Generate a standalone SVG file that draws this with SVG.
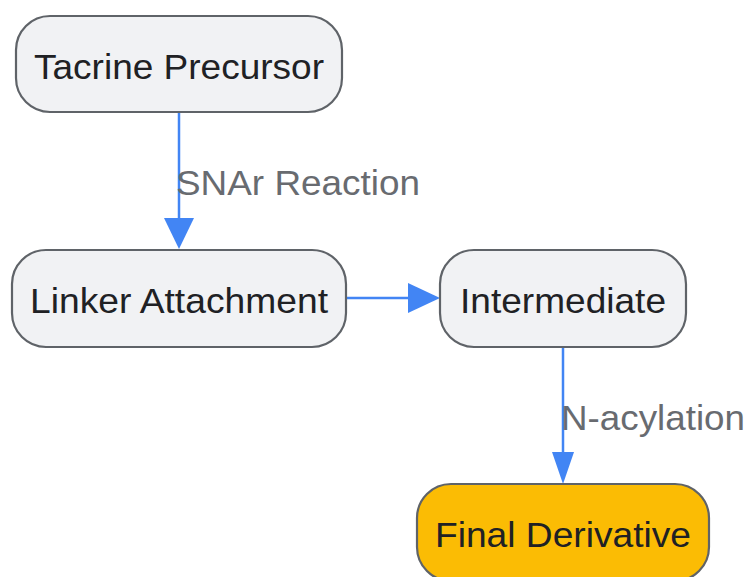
<svg xmlns="http://www.w3.org/2000/svg" width="748" height="577" viewBox="0 0 748 577">
<defs>
<style>
.node rect{fill:#f1f2f4;stroke:#5f6368;stroke-width:2.2}
.node.final rect{fill:#fbbc04}
.node text{font-family:"Liberation Sans",Arial,sans-serif;font-size:35px;fill:#202124;text-anchor:middle}
.edge{stroke:#4285f4;stroke-width:2.5;fill:none}
.lbl{font-family:"Liberation Sans",Arial,sans-serif;font-size:35px;fill:#686b70}
</style>
<marker id="ah" viewBox="0 0 10 10" refX="10" refY="5" markerWidth="10" markerHeight="10" markerUnits="userSpaceOnUse" orient="auto">
<path d="M0,0L10,5L0,10z" fill="#4285f4"/>
</marker>
</defs>
<rect width="748" height="577" fill="#ffffff"/>
<g id="connectors">
<line class="edge" x1="179" y1="113" x2="179" y2="220"/>
<path d="M164,218L194,218L179,249z" fill="#4285f4"/>
<text class="lbl" x="176" y="195" textLength="244" lengthAdjust="spacingAndGlyphs">SNAr Reaction</text>
<line class="edge" x1="347" y1="298" x2="410" y2="298"/>
<path d="M408,283L408,313L440,298z" fill="#4285f4"/>
<line class="edge" x1="563" y1="348" x2="563" y2="454"/>
<path d="M552,452L574,452L563,484z" fill="#4285f4"/>
<text class="lbl" x="561" y="430" textLength="184" lengthAdjust="spacingAndGlyphs">N-acylation</text>
</g>
<g id="tacrine" class="node">
<rect x="16" y="16" width="326" height="96" rx="34"/>
<text x="179" y="79" textLength="290" lengthAdjust="spacingAndGlyphs">Tacrine Precursor</text>
</g>
<g id="linker" class="node">
<rect x="12" y="250" width="334" height="97" rx="34"/>
<text x="179" y="313" textLength="298" lengthAdjust="spacingAndGlyphs">Linker Attachment</text>
</g>
<g id="intermediate" class="node">
<rect x="440" y="250" width="246" height="97" rx="34"/>
<text x="563" y="313" textLength="206" lengthAdjust="spacingAndGlyphs">Intermediate</text>
</g>
<g id="final" class="node final">
<rect x="417" y="484" width="292" height="97" rx="34"/>
<text x="563" y="547" textLength="256" lengthAdjust="spacingAndGlyphs">Final Derivative</text>
</g>
</svg>
